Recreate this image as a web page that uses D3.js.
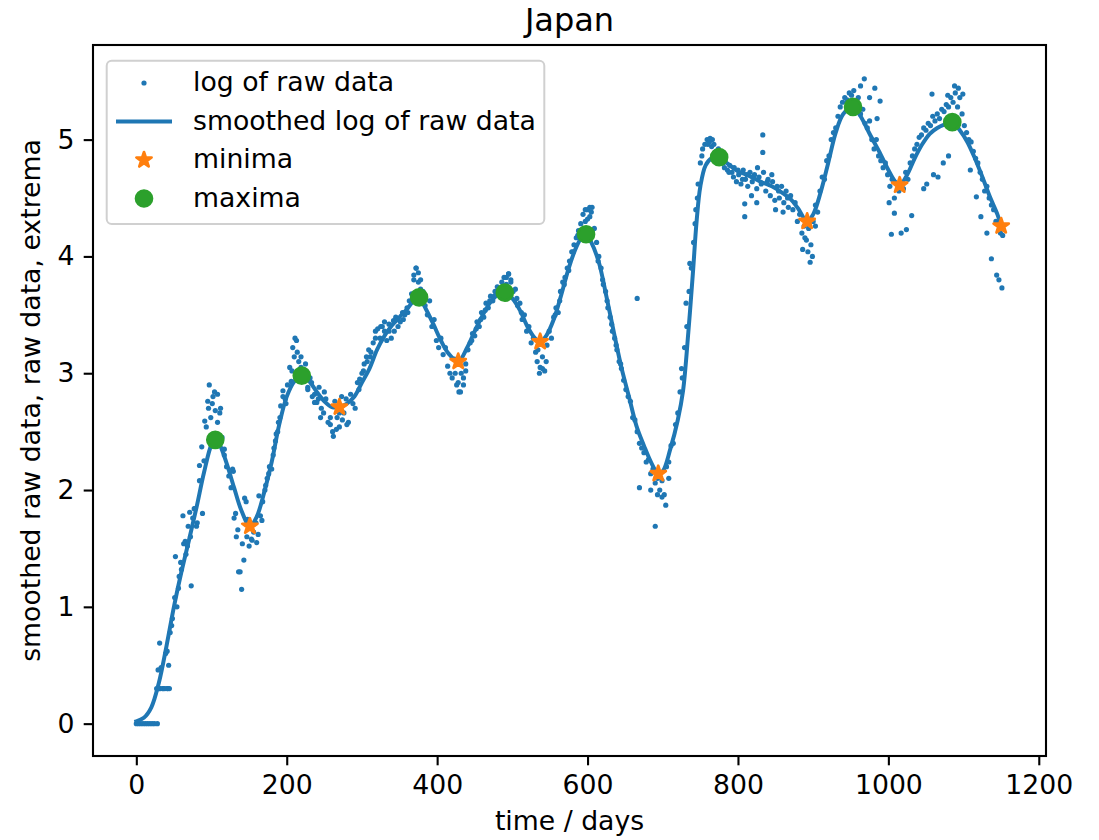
<!DOCTYPE html>
<html>
<head>
<meta charset="utf-8">
<script src="https://cdn.jsdelivr.net/npm/d3@7"></script>
<style>
  body { margin: 0; background: #fff; }
  text { font-family: 'DejaVu Sans', sans-serif; }
</style>
</head>
<body>
<svg width="1099" height="840"></svg>
<script>
// raw values (log10), one every 3 days starting at day 0
var rawStep = 3;
var rawValues = [
  0, 0, 0, 0, 0, 0, 0, 0, 0, 0.30,
  0.30, 0.48, 0.30, 0.60, 0.30, 0.78, 0.90, 1.08, 1.00, 1.26,
  1.32, 1.54, 1.45, 1.69, 1.60, 1.76, 1.84, 1.72, 2.08, 2.37,
  2.25, 2.54, 2.70, 2.62, 2.80, 2.68, 2.58, 2.66, 2.45, 2.35,
  2.20, 2.12, 2.02, 2.16, 1.80, 1.66, 1.30, 1.54, 1.93, 1.60,
  1.52, 1.58, 1.64, 1.72, 1.62, 1.78, 1.90, 2.00, 2.10, 2.20,
  2.18, 2.36, 2.48, 2.58, 2.72, 2.80, 2.78, 2.90, 3.05, 3.02,
  3.14, 3.28, 3.10, 3.05, 3.02, 3.08, 2.88, 2.96, 2.80, 2.82,
  2.75, 2.88, 2.70, 2.66, 2.78, 2.58, 2.62, 2.50, 2.76, 2.62,
  2.54, 2.80, 2.66, 2.78, 2.58, 2.82, 2.74, 2.70, 2.92, 2.95,
  3.00, 3.08, 3.14, 3.20, 3.18, 3.26, 3.36, 3.38, 3.30, 3.40,
  3.36, 3.28, 3.42, 3.30, 3.45, 3.48, 3.40, 3.44, 3.52, 3.50,
  3.56, 3.62, 3.68, 3.80, 3.90, 3.78, 3.72, 3.70, 3.58, 3.50,
  3.62, 3.40, 3.46, 3.28, 3.22, 3.30, 3.16, 3.22, 3.06, 3.00,
  2.96, 3.12, 2.90, 2.84, 3.00, 2.96, 3.08, 3.20, 3.26, 3.34,
  3.32, 3.44, 3.40, 3.52, 3.48, 3.60, 3.56, 3.66, 3.62, 3.70,
  3.74, 3.72, 3.78, 3.82, 3.76, 3.85, 3.80, 3.70, 3.72, 3.58,
  3.60, 3.46, 3.50, 3.36, 3.40, 3.26, 3.30, 3.18, 3.20, 3.05,
  3.14, 3.02, 3.24, 3.36, 3.30, 3.48, 3.56, 3.52, 3.70, 3.78,
  3.82, 3.90, 3.96, 4.04, 4.10, 4.16, 4.22, 4.28, 4.36, 4.30,
  4.40, 4.34, 4.42, 4.24, 4.12, 4.00, 3.90, 3.76, 3.70, 3.56,
  3.48, 3.36, 3.30, 3.20, 3.10, 3.04, 2.94, 2.86, 2.80, 2.76,
  2.62, 2.60, 2.50, 2.40, 2.36, 2.32, 2.24, 2.26, 2.14, 2.18,
  2.06, 2.10, 2.00, 2.08, 1.96, 2.20, 2.24, 2.38, 2.40, 2.56,
  2.66, 2.84, 2.96, 3.22, 3.40, 3.70, 3.90, 4.12, 4.40, 4.62,
  4.80, 4.92, 4.96, 5.00, 4.98, 4.94, 4.96, 4.90, 4.92, 4.86,
  4.80, 4.84, 4.74, 4.78, 4.72, 4.76, 4.64, 4.70, 4.62, 4.74,
  4.66, 4.60, 4.72, 4.64, 4.70, 4.58, 4.68, 4.62, 4.72, 4.56,
  4.66, 4.52, 4.64, 4.48, 4.60, 4.50, 4.60, 4.46, 4.56, 4.42,
  4.52, 4.40, 4.46, 4.30, 4.36, 4.20, 4.26, 4.14, 4.24, 4.10,
  4.30, 4.44, 4.38, 4.56, 4.68, 4.66, 4.82, 4.86, 5.00, 5.06,
  5.10, 5.20, 5.28, 5.32, 5.36, 5.34, 5.40, 5.38, 5.42, 5.30,
  5.36, 5.22, 5.26, 5.14, 5.10, 5.16, 5.00, 4.92, 5.00, 4.86,
  4.82, 4.76, 4.80, 4.70, 4.60, 4.66, 4.50, 4.62, 4.56, 4.62,
  4.58, 4.72, 4.66, 4.80, 4.86, 4.92, 4.96, 5.02, 5.04, 5.10,
  5.08, 5.14, 5.12, 5.20, 5.16, 5.22, 5.18, 5.26, 5.24, 5.30,
  5.28, 5.36, 5.32, 5.40, 5.28, 5.36, 5.22, 5.12, 5.06, 5.00,
  4.98, 4.90, 4.84, 4.80, 4.72, 4.66, 4.56, 4.60, 4.50, 4.44,
  4.40, 4.30, 4.28, 4.20, 4.18
];

// extra raw points [day, value] (repeated days, outliers)
var rawExtra = [
  [28, 0], [30, 0.30], [32, 0.30], [35, 0.30], [38, 0.30], [41, 0.30], [44, 0.30],
  [29, 0.46], [31, 0.69], [41, 0.62], [43, 0.50], [47, 0.84], [52, 1.43], [62, 1.78],
  [56, 1.16], [59, 1.38], [65, 1.56], [68, 1.52], [77, 1.84], [71, 1.81],
  [73, 1.18], [80, 1.69], [84, 2.21], [88, 1.80], [91, 2.59], [95, 2.76], [97, 2.90],
  [101, 2.74], [104, 2.84], [108, 2.82], [112, 2.70], [117, 2.30],
  [128, 2.18], [130, 1.76], [133, 1.60], [136, 1.30], [140, 1.15], [143, 1.40],
  [146, 1.90], [148, 1.75], [154, 1.57], [160, 1.55], [163, 1.95], [167, 1.74],
  [172, 2.04], [176, 2.14], [182, 2.30], [185, 2.42], [188, 2.50], [191, 2.62],
  [195, 2.85], [199, 2.74], [206, 2.93], [208, 3.22], [211, 3.30], [214, 3.18], [219, 3.14],
  [228, 2.86], [233, 2.92], [237, 2.75], [242, 2.78], [245, 2.62], [250, 2.84],
  [258, 2.56], [262, 2.46], [266, 2.52], [270, 2.66], [274, 2.60], [280, 2.56],
  [296, 2.86], [302, 3.02], [307, 3.10], [311, 3.14], [318, 3.30], [325, 3.40],
  [330, 3.44], [336, 3.36], [343, 3.36], [348, 3.46], [355, 3.46], [361, 3.52],
  [369, 3.84], [372, 3.90], [375, 3.86], [378, 3.80],
  [424, 3.00], [428, 2.92], [431, 2.84], [435, 2.90], [438, 3.02],
  [446, 3.28], [452, 3.38], [458, 3.46], [464, 3.54], [470, 3.62], [476, 3.66],
  [492, 3.82], [495, 3.85], [498, 3.78], [506, 3.64], [512, 3.52],
  [533, 3.10], [536, 3.00], [540, 3.04], [545, 3.10],
  [557, 3.50], [563, 3.62], [569, 3.76], [575, 3.88], [581, 4.04], [587, 4.18],
  [597, 4.40], [600, 4.32], [603, 4.42], [605, 4.38],
  [614, 3.96], [620, 3.80], [626, 3.62], [632, 3.42], [638, 3.24], [644, 3.08],
  [666, 3.64],
  [669, 2.02], [684, 2.00], [690, 1.69], [693, 1.96], [699, 1.94], [704, 1.87], [708, 2.10],
  [725, 3.04], [731, 3.60], [736, 3.94], [743, 4.28], [746, 4.50], [752, 4.86],
  [760, 4.96], [763, 5.01], [766, 5.00],
  [782, 4.76], [788, 4.72], [794, 4.68], [800, 4.74], [806, 4.66], [812, 4.70],
  [809, 4.34], [809, 4.45], [818, 4.52], [825, 4.46], [826, 4.76], [833, 5.04],
  [833, 4.89], [839, 4.64], [845, 4.70], [850, 4.40], [854, 4.56], [860, 4.38], [866, 4.50],
  [886, 4.06], [889, 4.16], [893, 4.04], [896, 3.95], [899, 4.00], [903, 4.26],
  [963, 5.46], [968, 5.52], [975, 5.36], [982, 5.44], [985, 5.18], [989, 5.33],
  [1001, 4.46], [1004, 4.19], [1008, 4.37], [1017, 4.20], [1024, 4.23], [1031, 4.35],
  [1047, 4.58], [1051, 4.62], [1058, 5.39], [1060, 4.70], [1066, 4.68], [1073, 4.80],
  [1079, 5.38], [1080, 4.86], [1088, 5.46], [1093, 5.44], [1099, 5.39],
  [1109, 4.74], [1117, 4.51], [1123, 4.34], [1131, 4.20], [1137, 3.98],
  [1144, 3.84], [1147, 3.80], [1151, 3.73]
];

// smoothed curve [day, value]
var smoothed = [
  [0, 0.02], [10, 0.05], [20, 0.14], [30, 0.35], [40, 0.66], [50, 1.00], [60, 1.30],
  [70, 1.57], [80, 1.85], [90, 2.15], [100, 2.39], [105, 2.43], [110, 2.40], [120, 2.23],
  [130, 2.02], [140, 1.82], [151, 1.69], [160, 1.77], [170, 1.98], [180, 2.24], [190, 2.56],
  [200, 2.80], [210, 2.93], [220, 2.98], [230, 2.93], [240, 2.84], [250, 2.76], [260, 2.71],
  [270, 2.71], [280, 2.74], [290, 2.80], [300, 2.92], [310, 3.04], [320, 3.20], [330, 3.32],
  [340, 3.41], [350, 3.48], [360, 3.55], [370, 3.63], [376, 3.65], [385, 3.55], [395, 3.42],
  [405, 3.28], [415, 3.17], [428, 3.10], [440, 3.22], [450, 3.36], [460, 3.49], [470, 3.60],
  [480, 3.67], [490, 3.69], [500, 3.64], [510, 3.54], [520, 3.40], [530, 3.30], [537, 3.27],
  [545, 3.32], [555, 3.46], [565, 3.67], [575, 3.90], [585, 4.08], [592, 4.16], [598, 4.19],
  [605, 4.12], [615, 3.95], [625, 3.66], [635, 3.35], [645, 3.05], [655, 2.80], [665, 2.55],
  [675, 2.38], [685, 2.23], [694, 2.14], [700, 2.16], [710, 2.35], [720, 2.60], [727, 2.85],
  [734, 3.35], [740, 3.85], [745, 4.30], [750, 4.60], [757, 4.78], [765, 4.84], [775, 4.85],
  [785, 4.80], [800, 4.73], [815, 4.69], [830, 4.64], [845, 4.60], [860, 4.54], [870, 4.49],
  [880, 4.41], [892, 4.30], [900, 4.36], [910, 4.55], [920, 4.80], [930, 5.06], [940, 5.22],
  [953, 5.28], [963, 5.20], [975, 5.05], [990, 4.87], [1000, 4.74], [1008, 4.65], [1015, 4.61],
  [1025, 4.70], [1035, 4.84], [1045, 4.96], [1055, 5.05], [1065, 5.10], [1075, 5.13],
  [1085, 5.15], [1095, 5.08], [1105, 4.98], [1115, 4.84], [1125, 4.68], [1135, 4.51],
  [1145, 4.36], [1150, 4.26]
];

var minimaDays = [151, 270, 428, 537, 694, 892, 1015, 1150];
var minimaValues = [1.69, 2.71, 3.10, 3.27, 2.14, 4.30, 4.61, 4.26];
var maximaDays = [105, 220, 376, 490, 598, 775, 953, 1085];
var maximaValues = [2.43, 2.98, 3.65, 3.69, 4.19, 4.85, 5.28, 5.15];

var xTicks = [0, 200, 400, 600, 800, 1000, 1200];
var yTicks = [0, 1, 2, 3, 4, 5];
var legendLabels = ['log of raw data', 'smoothed log of raw data', 'minima', 'maxima'];

var blue = '#1f77b4', orange = '#ff7f0e', green = '#2ca02c';
var fontSize = 26.7;
var dotR = 2.6;

var svg = d3.select('svg');
var axLeft = 93, axRight = 1046, axTop = 45, axBottom = 756;

var x = d3.scaleLinear().domain([-57.6, 1209.6]).range([axLeft, axRight]);
var y = d3.scaleLinear().domain([-0.277, 5.81]).range([axBottom, axTop]);

var rawPoints = rawValues.map(function(v, i) {
  return [i * rawStep, v];
}).concat(rawExtra);

function starPath(cx, cy, R) {
  var r = R * 0.381966, pts = [];
  for (var i = 0; i < 10; i++) {
    var a = Math.PI * i / 5;
    var rr = i % 2 === 0 ? R : r;
    pts.push([cx + rr * Math.sin(a), cy - rr * Math.cos(a)]);
  }
  return 'M' + pts.join('L') + 'Z';
}

var plot = svg.append('g');

// raw data dots
plot.append('g')
  .selectAll('circle')
  .data(rawPoints)
  .enter()
  .append('circle')
  .attr('cx', function(d) { return x(d[0]); })
  .attr('cy', function(d) { return y(d[1]); })
  .attr('r', dotR)
  .style('fill', blue);

// smoothed line
var line = d3.line()
  .x(function(d) { return x(d[0]); })
  .y(function(d) { return y(d[1]); })
  .curve(d3.curveCatmullRom);

plot.append('path')
  .datum(smoothed)
  .attr('d', line)
  .style('fill', 'none')
  .style('stroke', blue)
  .style('stroke-width', 4)
  .style('stroke-linecap', 'square');

// minima
plot.append('g')
  .selectAll('path')
  .data(minimaDays)
  .enter()
  .append('path')
  .attr('d', function(d, i) { return starPath(x(d), y(minimaValues[i]), 8); })
  .style('fill', orange)
  .style('stroke', orange)
  .style('stroke-width', 2.67)
  .style('stroke-linejoin', 'round');

// maxima
plot.append('g')
  .selectAll('circle')
  .data(maximaDays)
  .enter()
  .append('circle')
  .attr('cx', function(d) { return x(d); })
  .attr('cy', function(d, i) { return y(maximaValues[i]); })
  .attr('r', 8)
  .style('fill', green)
  .style('stroke', green)
  .style('stroke-width', 2.67);

// axes
var xAxis = svg.append('g')
  .attr('transform', 'translate(0,' + axBottom + ')')
  .call(d3.axisBottom(x).tickValues(xTicks).tickFormat(d3.format('d'))
    .tickSize(9.3).tickPadding(9.3).tickSizeOuter(0));
var yAxis = svg.append('g')
  .attr('transform', 'translate(' + axLeft + ',0)')
  .call(d3.axisLeft(y).tickValues(yTicks).tickFormat(d3.format('d'))
    .tickSize(9.3).tickPadding(9.3).tickSizeOuter(0));

[xAxis, yAxis].forEach(function(ax) {
  ax.select('.domain').remove();
  ax.selectAll('line').style('stroke', '#000').style('stroke-width', 2.1);
  ax.selectAll('text')
    .style('font-family', "'DejaVu Sans', sans-serif")
    .style('font-size', fontSize + 'px')
    .style('fill', '#000');
});

svg.append('rect')
  .attr('x', axLeft)
  .attr('y', axTop)
  .attr('width', axRight - axLeft)
  .attr('height', axBottom - axTop)
  .style('fill', 'none')
  .style('stroke', '#000')
  .style('stroke-width', 2.1);

// title and axis labels
svg.append('text')
  .attr('x', (axLeft + axRight) / 2)
  .attr('y', 31)
  .attr('text-anchor', 'middle')
  .style('font-size', '32px')
  .text('Japan');

svg.append('text')
  .attr('x', (axLeft + axRight) / 2)
  .attr('y', 830)
  .attr('text-anchor', 'middle')
  .style('font-size', fontSize + 'px')
  .text('time / days');

svg.append('text')
  .attr('transform', 'translate(40,' + (axTop + axBottom) / 2 + ') rotate(-90)')
  .attr('text-anchor', 'middle')
  .style('font-size', fontSize + 'px')
  .text('smoothed raw data, raw data, extrema');

// legend
var legend = svg.append('g');
legend.append('rect')
  .attr('x', 106.7)
  .attr('y', 60.7)
  .attr('width', 437.6)
  .attr('height', 163.3)
  .attr('rx', 5)
  .style('fill', 'rgba(255,255,255,0.8)')
  .style('stroke', '#d0d0d0')
  .style('stroke-width', 2);

var rowY = [83, 121.5, 160, 198.5];
legend.append('circle').attr('cx', 144).attr('cy', rowY[0]).attr('r', dotR).style('fill', blue);
legend.append('line')
  .attr('x1', 116).attr('x2', 172).attr('y1', rowY[1]).attr('y2', rowY[1])
  .style('stroke', blue).style('stroke-width', 4);
legend.append('path')
  .attr('d', starPath(144, rowY[2], 8))
  .style('fill', orange).style('stroke', orange).style('stroke-width', 2.67)
  .style('stroke-linejoin', 'round');
legend.append('circle').attr('cx', 144).attr('cy', rowY[3]).attr('r', 8)
  .style('fill', green).style('stroke', green).style('stroke-width', 2.67);

legend.selectAll('text.lbl')
  .data(legendLabels)
  .enter()
  .append('text')
  .attr('class', 'lbl')
  .attr('x', 193)
  .attr('y', function(d, i) { return rowY[i] + 8.3; })
  .style('font-size', fontSize + 'px')
  .text(function(d) { return d; });
</script>
</body>
</html>
